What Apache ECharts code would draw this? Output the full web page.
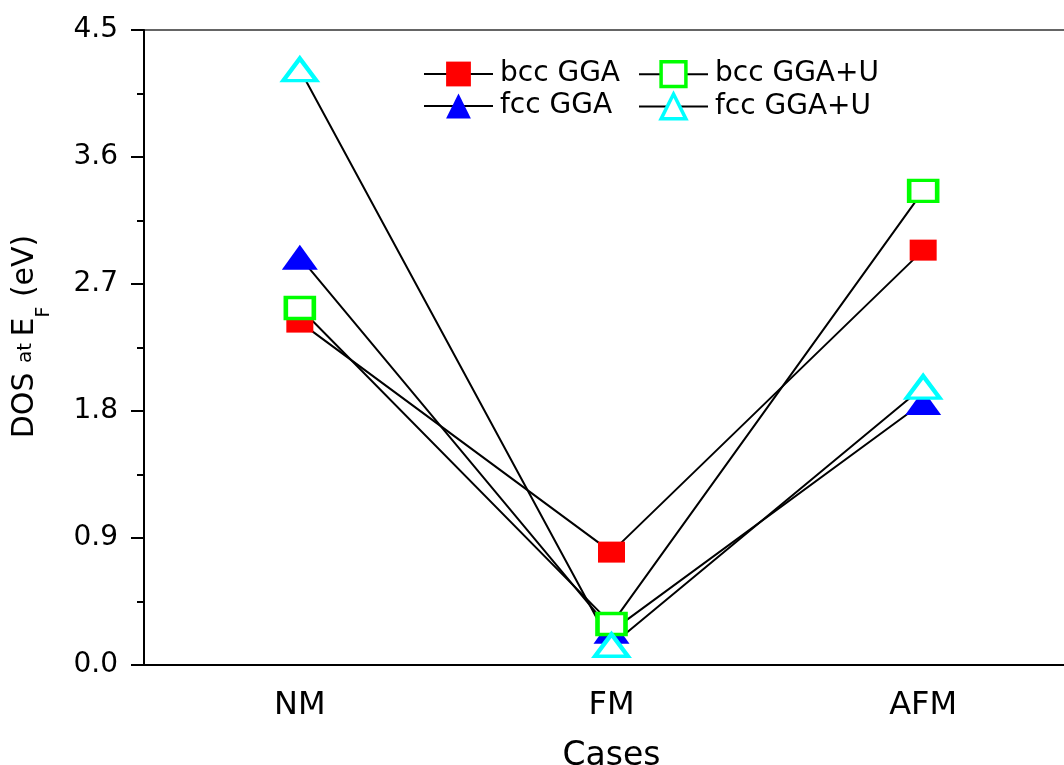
<!DOCTYPE html>
<html>
<head>
<meta charset="utf-8">
<title>DOS at E_F</title>
<script src="https://cdn.jsdelivr.net/npm/echarts@6/dist/echarts.min.js"></script>
<style>
  html, body { margin: 0; padding: 0; background: #fff; overflow: hidden; width: 1064px; height: 765px; }
  /* the plot frame runs past the right edge of the page */
  #chart { width: 1079px; height: 765px; }
</style>
</head>
<body>
<div id="chart"></div>
<script>
// Magnetic configurations on the x axis
const cases = ['NM', 'FM', 'AFM'];

// Density of states at the Fermi level (eV) per configuration
const bccGGA  = [2.43, 0.80, 2.94];
const fccGGA  = [2.89, 0.24, 1.86];
const bccGGAU = [2.53, 0.29, 3.36];
const fccGGAU = [4.22, 0.14, 1.97];

const seriesNames = ['bcc GGA', 'fcc GGA', 'bcc GGA+U', 'fcc GGA+U'];

// y axis range and step
const yMin = 0;
const yMax = 4.5;
const yStep = 0.9;

const FONT = 'DejaVu Sans';

const chart = echarts.init(document.getElementById('chart'), null, { renderer: 'canvas' });

function lineSeries(name, data, symbol, size, color, hollow) {
  return {
    name: name,
    type: 'line',
    xAxisIndex: 0,
    yAxisIndex: 0,
    data: data,
    symbol: symbol,
    symbolSize: size,
    showAllSymbol: true,
    lineStyle: { color: '#000', width: 2 },
    itemStyle: hollow
      ? { color: '#fff', borderColor: color, borderWidth: 4 }
      : { color: color, borderWidth: 0 },
    emphasis: { disabled: true },
    z: 2
  };
}

const legendBase = {
  orient: 'vertical',
  itemWidth: 69,
  itemHeight: 31,
  itemGap: 4,
  top: 55,
  selectedMode: false,
  textStyle: { fontFamily: FONT, fontSize: 28, color: '#000', padding: [0, 0, 0, 2] }
};

const hollowLegendStyle = { borderWidth: 3.5 };

const gridRect = { left: 144, top: 30, right: 0, bottom: 100, outerBoundsMode: 'none', containLabel: false };

chart.setOption({
  animation: false,
  backgroundColor: '#fff',
  grid: [
    Object.assign({ show: true, borderColor: '#333', borderWidth: 1.5, backgroundColor: 'transparent' }, gridRect),
    Object.assign({}, gridRect)
  ],
  legend: [
    Object.assign({}, legendBase, { left: 418, data: [seriesNames[0], seriesNames[1]] }),
    Object.assign({}, legendBase, {
      left: 633,
      data: [
        { name: seriesNames[2], itemStyle: hollowLegendStyle },
        { name: seriesNames[3], itemStyle: hollowLegendStyle }
      ]
    })
  ],
  xAxis: [
    {
      type: 'category',
      gridIndex: 0,
      data: cases,
      boundaryGap: true,
      name: 'Cases',
      nameLocation: 'middle',
      nameGap: 75,
      nameTextStyle: { fontFamily: FONT, fontSize: 33, color: '#000' },
      axisLine: { lineStyle: { color: '#000', width: 2 } },
      axisTick: { alignWithLabel: true, length: 12, lineStyle: { color: '#000', width: 2 } },
      axisLabel: { fontFamily: FONT, fontSize: 32, color: '#000', margin: 25 },
      splitLine: { show: false }
    },
    {
      // short ticks at the category boundaries
      type: 'category',
      gridIndex: 1,
      data: cases,
      boundaryGap: true,
      axisLine: { show: false },
      axisTick: { length: 6, lineStyle: { color: '#000', width: 2 } },
      axisLabel: { show: false },
      splitLine: { show: false }
    }
  ],
  yAxis: [
    {
      type: 'value',
      gridIndex: 0,
      min: yMin,
      max: yMax,
      interval: yStep,
      name: '{big|DOS }{small|at }{big|E}{sub|F}{big| (eV)}',
      nameLocation: 'middle',
      nameGap: 90,
      nameTextStyle: {
        color: '#000',
        padding: [0, 0, 0, 22],
        rich: {
          big: { fontFamily: FONT, fontSize: 30, color: '#000' },
          small: { fontFamily: FONT, fontSize: 20, color: '#000' },
          sub: { fontFamily: FONT, fontSize: 19, color: '#000', padding: [38, 0, 0, 0] }
        }
      },
      axisLine: { show: true, lineStyle: { color: '#000', width: 2 } },
      axisTick: { show: true, length: 13, lineStyle: { color: '#000', width: 2 } },
      minorTick: { show: true, splitNumber: 2, length: 7, lineStyle: { color: '#000', width: 2 } },
      axisLabel: {
        fontFamily: FONT, fontSize: 28, color: '#000', margin: 26,
        formatter: v => v.toFixed(1)
      },
      splitLine: { show: false }
    },
    { type: 'value', gridIndex: 1, min: 0, max: 1, show: false }
  ],
  series: [
    lineSeries(seriesNames[0], bccGGA, 'rect', [27, 21], '#ff0000', false),
    lineSeries(seriesNames[1], fccGGA, 'triangle', [36, 25], '#0000ff', false),
    lineSeries(seriesNames[2], bccGGAU, 'rect', [28, 21], '#00ff00', true),
    lineSeries(seriesNames[3], fccGGAU, 'triangle', [33, 22], '#00ffff', true)
  ]
});
</script>
</body>
</html>
